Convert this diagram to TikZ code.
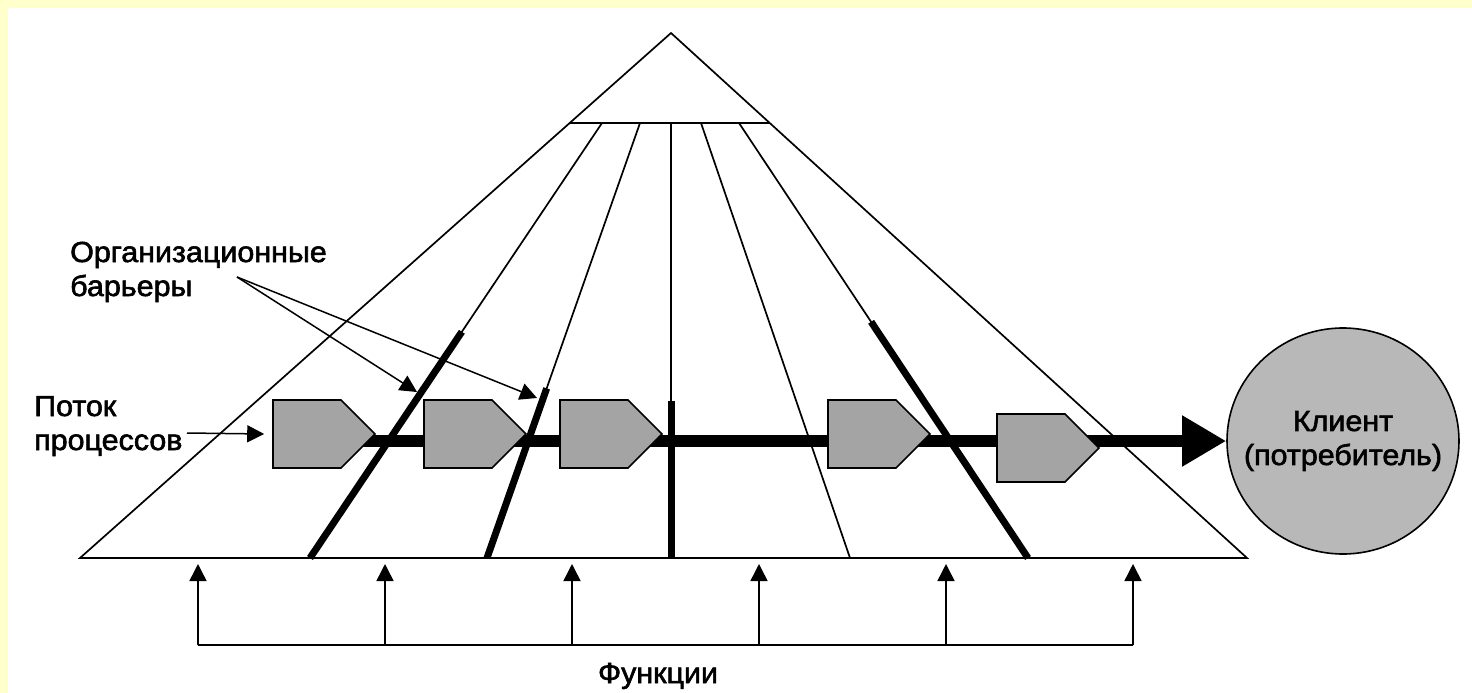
\documentclass[tikz,border=0pt]{standalone}
\usepackage{fontspec}
\setmainfont[FakeStretch=1.05,FakeBold=2]{Liberation Sans}
\usetikzlibrary{arrows.meta,shapes.symbols,shapes.geometric,calc}
\pgfdeclarelayer{back}
\pgfdeclarelayer{bg}
\pgfsetlayers{back,bg,main}
\definecolor{pagebg}{RGB}{255,255,204}
\definecolor{procgray}{RGB}{164,164,164}
\definecolor{clientgray}{RGB}{184,184,184}
\begin{document}
\begin{tikzpicture}[x=1pt,y=-1pt,
  every node/.style={font=\fontsize{29}{34}\selectfont},
  thinline/.style={line width=1.7pt,black},
  barrier/.style={line width=7pt,black},
  arr/.style={line width=1.5pt,-{Triangle[length=17pt,width=17pt]}},
  proc/.style={signal, signal to=east, signal pointer angle=90, draw, line width=1.6pt,
    fill=procgray, minimum width=102pt, minimum height=68pt, inner sep=0pt},
  client/.style={ellipse, draw, line width=1.6pt, fill=clientgray, minimum width=232pt,
    minimum height=226pt, inner xsep=-20pt, inner ysep=0pt, align=center},
  lbl/.style={inner sep=0pt, align=left}]
\useasboundingbox (0,0) rectangle (1472,693);
\begin{pgfonlayer}{back}
  \fill[white] (0,0) rectangle (1472,693);
  \fill[pagebg] (0,0) rectangle (1472,8);
  \fill[pagebg] (0,0) rectangle (8,693);
\end{pgfonlayer}

% pyramid
\coordinate (apex) at (671,33);
\coordinate (bl) at (80,558);
\coordinate (br) at (1247,558);
\draw[thinline, line join=miter] (apex) -- (br) -- (bl) -- cycle;
\coordinate (hl) at ($(apex)!90/525!(bl)$);
\coordinate (hr) at ($(apex)!90/525!(br)$);
\draw[thinline] (hl) -- (hr);

% fan lines
\coordinate (t1) at (602,123); \coordinate (u1) at (310,558);
\coordinate (t2) at (640,123); \coordinate (u2) at (487,558);
\coordinate (t3) at (671,123); \coordinate (u3) at (671,558);
\coordinate (t4) at (701,123); \coordinate (u4) at (850,558);
\coordinate (t5) at (739,123); \coordinate (u5) at (1028,558);
\foreach \i in {1,...,5} {\draw[thinline] (t\i) -- (u\i);}

% process boxes
\node[proc] (p1) at (307,434) {};
\node[proc] (p2) at (458,434) {};
\node[proc] (p3) at (594,434) {};
\node[proc] (p4) at (862,434) {};
\node[proc] (p5) at (1031,448) {};

% client
\node[client] (client) at (1343,441) {Клиент\\(потребитель)};

% process flow bar
\begin{pgfonlayer}{bg}
  \draw[line width=12pt, -{Triangle[length=44pt,width=48pt]}] (p1.center |- client.west) -- (client.west);
\end{pgfonlayer}

% barriers (thick parts)
\draw[barrier] ($(t1)!0.48!(u1)$) -- (u1);
\draw[barrier] ($(t2)!0.61!(u2)$) -- (u2);
\draw[barrier] ($(t3)!0.64!(u3)$) -- (u3);
\draw[barrier] ($(t5)!0.457!(u5)$) -- (u5);

% labels
\node[lbl, anchor=base west] (barlbl) at (70,296) {Организационные\\барьеры};
\coordinate (barsrc) at (237,277);
\coordinate (bt1) at (417,392);
\coordinate (bt2) at (537,398);
\draw[arr] (barsrc) -- (bt1);
\draw[arr] (barsrc) -- (bt2);

\node[lbl, anchor=base west] (flowlbl) at (34,450) {Поток\\процессов};
\coordinate (flowsrc) at (187,433);
\draw[arr] (flowsrc) -- ([xshift=-8pt]p1.west);

% functions
\foreach \i/\x in {1/198,2/385,3/572,4/759,5/946,6/1133} {
  \coordinate (fb\i) at (\x,645);
  \coordinate (ft\i) at (\x,564);
  \draw[arr] (fb\i) -- (ft\i);
}
\draw[thinline] (fb1) -- (fb6);
\node[inner sep=0pt, anchor=base] (funcs) at (658,683) {Функции};
\end{tikzpicture}
\end{document}
